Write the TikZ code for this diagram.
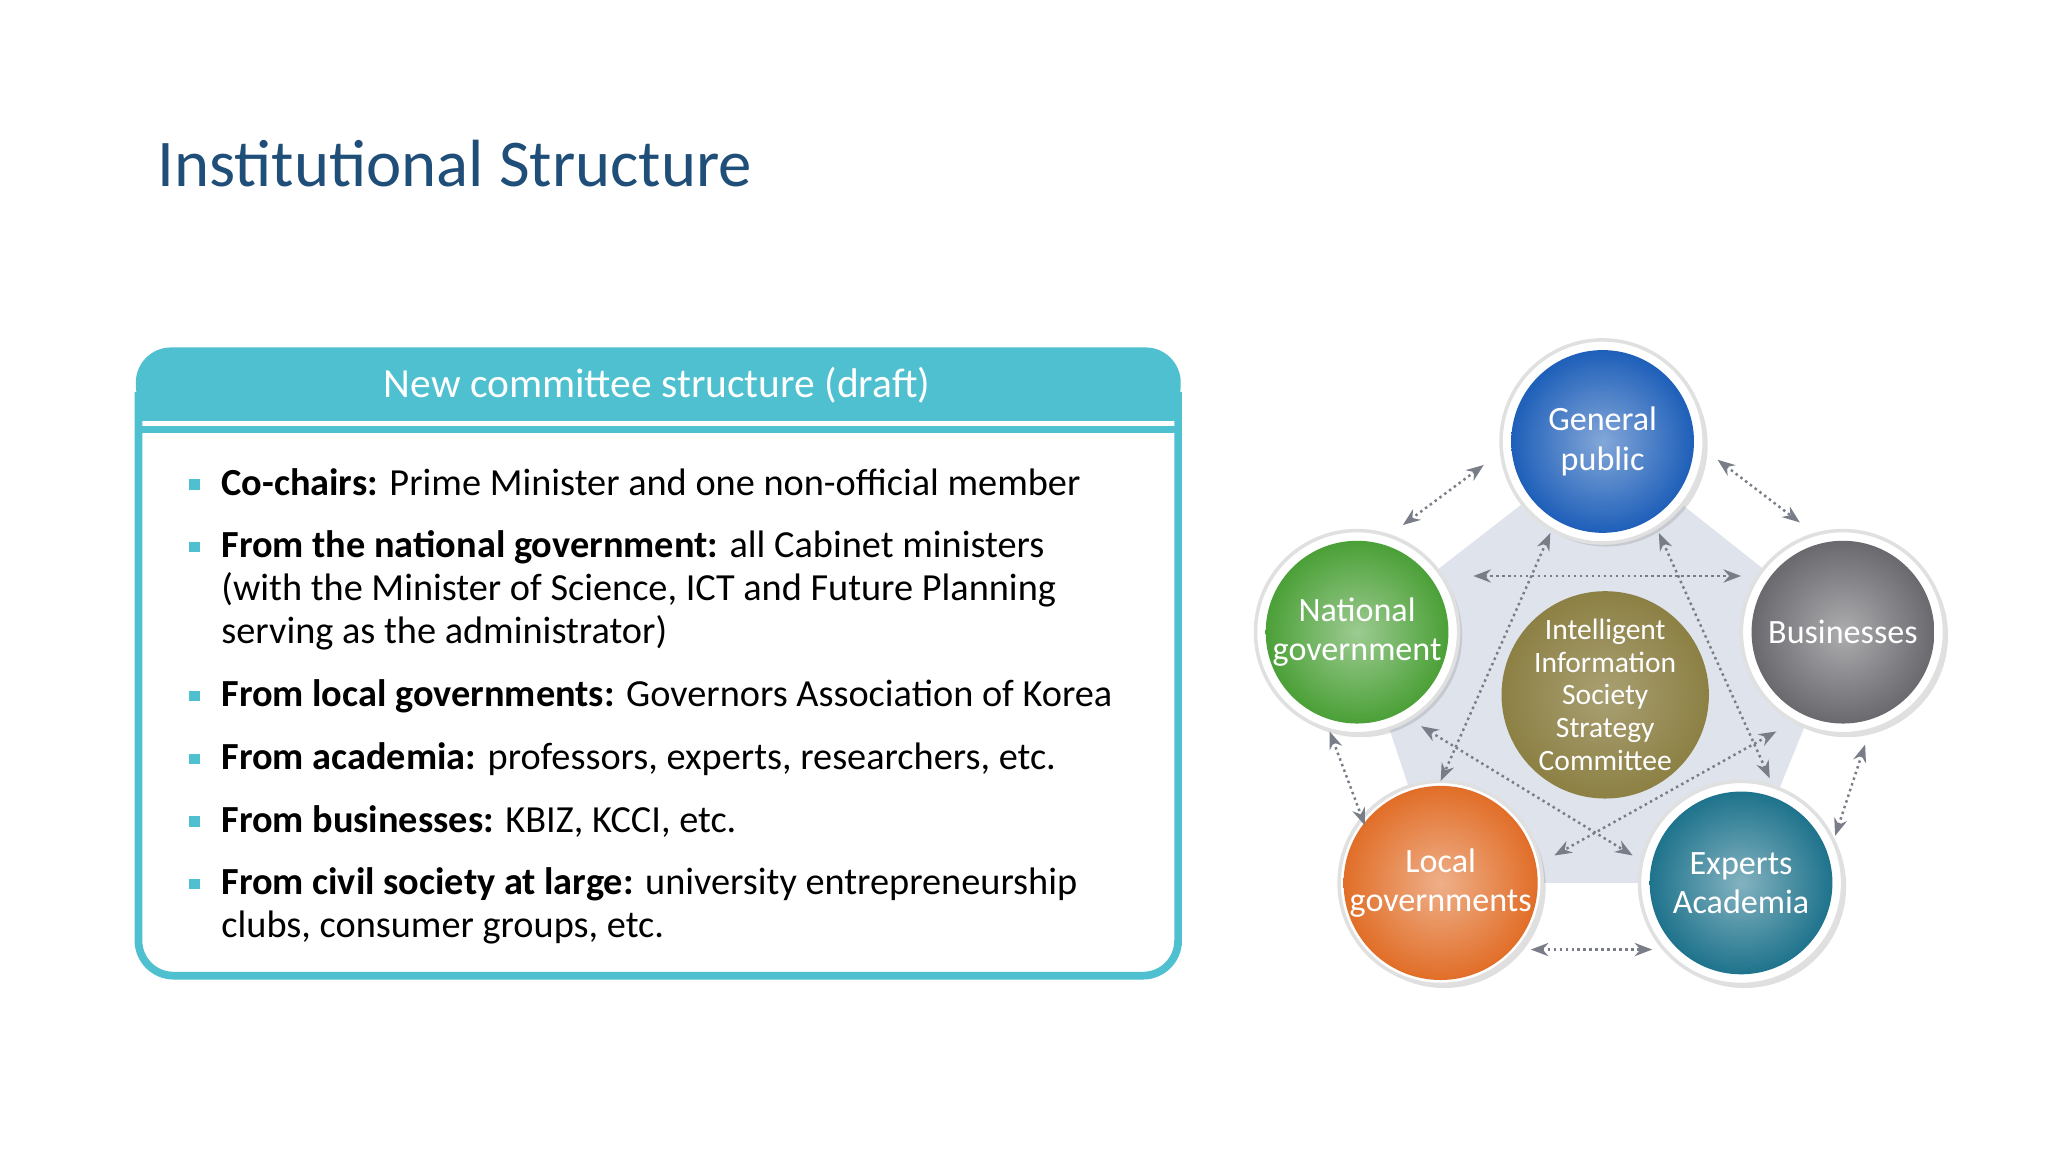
\documentclass[tikz,border=0pt]{standalone}
\usepackage{fontspec}
\setmainfont{Carlito}
\usetikzlibrary{arrows.meta,shadows}
\definecolor{titleblue}{RGB}{31,78,121}
\definecolor{teal}{RGB}{79,192,208}
\definecolor{bul}{RGB}{79,192,208}
\definecolor{cblue}{RGB}{30,95,185}
\definecolor{cgray}{RGB}{105,105,110}
\definecolor{cgreen}{RGB}{75,160,55}
\definecolor{corange}{RGB}{225,110,40}
\definecolor{cteal}{RGB}{30,115,140}
\definecolor{colive}{RGB}{140,128,68}
\definecolor{pent}{RGB}{222,227,236}
\definecolor{arr}{RGB}{120,125,135}
\tikzset{
 ring/.style={circle,fill=white,draw=black!12,line width=1pt,minimum size=57.8pt,inner sep=0,drop shadow={opacity=0.25,shadow xshift=1pt,shadow yshift=-1pt}},
 ball/.style={circle,minimum size=52pt,inner sep=0,text=white,align=center,font=\fontsize{9.7}{11.2}\selectfont,inner color=#1!55,outer color=#1},
 con/.style={densely dotted,{Stealth[length=5pt]}-{Stealth[length=5pt]},color=arr,line width=0.7pt},
 bl/.style={text width=280pt,align=flush left,font=\fontsize{10.9}{12.2}\selectfont,anchor=north west,inner sep=0}
}
\begin{document}
\begin{tikzpicture}[x=0.013061cm,y=-0.013061cm]
\useasboundingbox (0,0) rectangle (1568,882);
\fill[white] (0,0) rectangle (1568,882);
\node[anchor=base west,inner sep=0,text=titleblue,font=\fontsize{19}{21}\selectfont] (title) at (120,143) {Institutional Structure};
% box
\draw[teal,line width=2.2pt,rounded corners=10] (106,300) -- (106,747) -- (902,747) -- (902,300);
\fill[teal,rounded corners=10] (104,266) rectangle (904,322);
\fill[teal] (104,300) rectangle (904,322);
\node[text=white,font=\fontsize{11.8}{13}\selectfont] (head) at (503,295) {New committee structure (draft)};
\draw[teal,line width=2pt] (104,329) -- (904,329);
\foreach \y in {371,419,533,581,629,677} \fill[bul] (145,\y-4) rectangle (153,\y+4);
\node[bl] (b1) at (169,358) {\textbf{Co-chairs:} Prime Minister and one non-official member};
\node[bl] (b2) at (169,406) {\textbf{From the national government:} all Cabinet ministers\\ (with the Minister of Science, ICT and Future Planning\\ serving as the administrator)};
\node[bl] (b3) at (169,520) {\textbf{From local governments:} Governors Association of Korea};
\node[bl] (b4) at (169,568) {\textbf{From academia:} professors, experts, researchers, etc.};
\node[bl] (b5) at (169,616) {\textbf{From businesses:} KBIZ, KCCI, etc.};
\node[bl] (b6) at (169,664) {\textbf{From civil society at large:} university entrepreneurship\\ clubs, consumer groups, etc.};
% diagram
\fill[pent] (1227,338) -- (1411,484) -- (1333,676) -- (1103,676) -- (1039,484) -- cycle;
\node[ring] (r1) at (1227,338) {};
\node[ring] (r2) at (1411,484) {};
\node[ring] (r3) at (1333,676) {};
\node[ring] (r4) at (1103,676) {};
\node[ring] (r5) at (1039,484) {};
\node[ball=cblue] (gp) at (1227,338) {General\\ public};
\node[ball=cgray] (bu) at (1411,484) {Businesses};
\node[ball=cteal] (ea) at (1333,676) {Experts\\ Academia};
\node[ball=corange] (lg) at (1103,676) {Local\\ governments};
\node[ball=cgreen] (ng) at (1039,484) {National\\ government};
% outer arrows
\coordinate (a1) at (1136,356); \coordinate (a2) at (1074,402);
\coordinate (a3) at (1315,352); \coordinate (a4) at (1378,400);
\coordinate (a5) at (1018,560); \coordinate (a6) at (1045,632);
\coordinate (a7) at (1172,727); \coordinate (a8) at (1265,727);
\coordinate (a9) at (1428,570); \coordinate (a10) at (1405,640);
\draw[con] (a1) -- (a2); \draw[con] (a3) -- (a4); \draw[con] (a5) -- (a6);
\draw[con] (a7) -- (a8); \draw[con] (a9) -- (a10);
% inner arrows
\coordinate (i1) at (1128,441); \coordinate (i2) at (1333,441);
\coordinate (i3) at (1187,408); \coordinate (i4) at (1103,598);
\coordinate (i5) at (1270,408); \coordinate (i6) at (1355,596);
\coordinate (i7) at (1088,556); \coordinate (i8) at (1250,655);
\coordinate (i9) at (1360,560); \coordinate (i10) at (1190,655);
\draw[con] (i1) -- (i2);
\draw[con] (i3) -- (i4); \draw[con] (i5) -- (i6);
\draw[con] (i7) -- (i8); \draw[con] (i9) -- (i10);
\node[circle,minimum size=59pt,inner sep=0,text=white,align=center,inner color=colive!75,outer color=colive,font=\fontsize{8.4}{9.3}\selectfont] (cc) at (1229,532) {Intelligent\\ Information\\ Society\\ Strategy\\ Committee};
\end{tikzpicture}
\end{document}
